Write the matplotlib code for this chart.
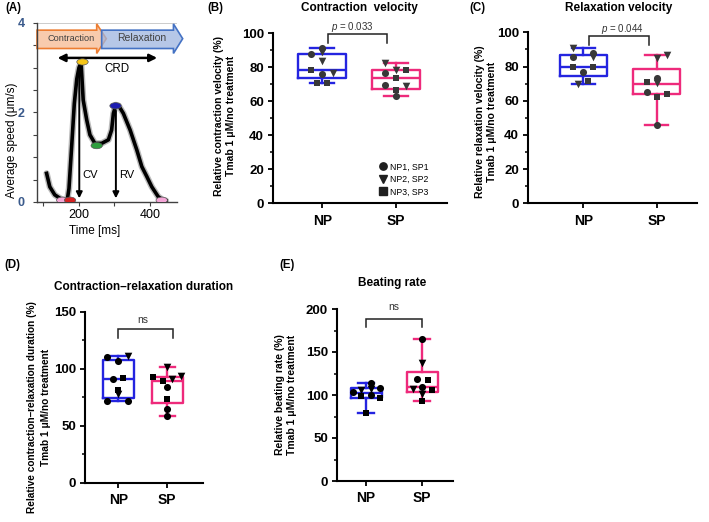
import numpy as np
import matplotlib.pyplot as plt
from matplotlib.patches import Ellipse, Polygon
from matplotlib.lines import Line2D

plt.rcParams['font.family'] = ['Liberation Sans', 'DejaVu Sans']
plt.rcParams['mathtext.fontset'] = 'custom'
plt.rcParams['mathtext.it'] = 'Liberation Sans:italic'
plt.rcParams['mathtext.rm'] = 'Liberation Sans'

W, H = 709, 522
BLUE = '#2424e0'
PINK = '#ee2a7b'

# ---- (A) speed trace ----
trace_t = [109, 118, 132, 151, 167, 172, 180, 187, 194, 200, 206, 212, 222, 231, 245,
           264, 283, 292, 297, 304, 312, 325, 344, 363, 377, 391, 405, 423, 437, 445]
trace_s = [0.64, 0.34, 0.16, 0.06, 0.04, 0.3, 1.3, 2.2, 2.75, 3.0, 3.12, 2.28, 1.83, 1.5, 1.31,
           1.31, 1.39, 1.61, 1.98, 2.17, 2.15, 1.98, 1.61, 1.16, 0.79, 0.57, 0.34, 0.12, 0.04, 0.03]
dot_t = [153, 175, 210, 250, 303, 433]
dot_s = [0.04, 0.04, 3.13, 1.26, 2.15, 0.04]
dot_col = ['#f4a6d7', '#d42020', '#f5c518', '#2e9e3e', '#1c1cb0', '#f4a6d7']
cv_t, rv_t = 201, 304

# ---- box panels: [min, q1, median, q3, max] and points ----
groups = ['NP', 'SP']

cv_box = [[70.9, 73.6, 78.1, 87.5, 91.2], [62.9, 67.4, 73.3, 78.1, 82.1]]
cv_np = [87.9, 91.4, 88.9, 83.6, 78.1, 75.8, 76.8, 70.7, 70.7]
cv_np_m = ['o', 'o', 'v', 'v', 's', 'o', 'v', 's', 's']
cv_np_dx = [-0.146, 0, 0, 0, -0.146, 0, 0.138, -0.078, 0.065]
cv_sp = [82.1, 76.6, 78.5, 78.5, 73.3, 69.3, 68.9, 66.4, 62.9]
cv_sp_m = ['v', 'o', 'v', 's', 's', 'o', 'v', 's', 'o']
cv_sp_dx = [-0.149, -0.149, 0, 0.135, 0, -0.149, 0.135, 0, 0]

rv_box = [[69.8, 74.5, 79.9, 86.5, 90.6], [45.8, 63.9, 69.6, 78.4, 86.7]]
rv_np = [90.6, 85.7, 87.7, 85.4, 79.9, 79.9, 76.6, 69.8, 71.7]
rv_np_m = ['v', 'o', 'o', 'v', 's', 's', 'o', 'v', 's']
rv_np_dx = [-0.136, -0.136, 0.136, 0.136, -0.136, 0.136, 0, -0.068, 0.068]
rv_sp = [86.7, 84.8, 73.1, 71.1, 70.2, 65.3, 62.3, 63.7, 45.8]
rv_sp_m = ['v', 'v', 'o', 's', 'v', 'o', 's', 's', 'o']
rv_sp_dx = [0.145, 0, 0, -0.136, 0, -0.136, 0, 0.145, 0]

crd_box = [[71.8, 74.2, 91.1, 107.8, 111.6], [58.6, 70.0, 89.6, 92.5, 101.4]]
crd_np = [110.2, 107.2, 111.6, 91.1, 91.7, 81.5, 77.9, 71.8, 71.8]
crd_np_m = ['o', 'o', 'v', 'o', 's', 's', 'v', 'o', 'o']
crd_np_dx = [-0.24, -0.01, 0.2, -0.115, 0.1, 0, 0, -0.24, 0.2]
crd_sp = [101.4, 93.2, 89.6, 91.1, 93.8, 84.4, 73.3, 64.5, 58.6]
crd_sp_m = ['v', 's', 's', 'v', 'v', 'o', 's', 'o', 'o']
crd_sp_dx = [0, -0.29, -0.08, 0.1, 0.28, 0, 0, 0, 0]

br_box = [[78.7, 97.0, 102.7, 108.0, 114.3], [93.0, 103.0, 109.0, 127.0, 164.8]]
br_np = [103.9, 98.8, 105.8, 114.3, 106.6, 100.0, 96.9, 108.0, 78.7]
br_np_m = ['o', 's', 'v', 'o', 'v', 'o', 's', 'o', 's']
br_np_dx = [-0.24, -0.084, -0.084, 0.08, 0.08, 0.08, 0.24, 0.24, 0]
br_sp = [164.8, 136.9, 118.3, 117.4, 109.0, 106.6, 105.8, 101.2, 93.0]
br_sp_m = ['o', 'v', 'o', 's', 'o', 'v', 's', 'v', 's']
br_sp_dx = [0, 0, -0.09, 0.1, 0, -0.17, 0.18, 0, 0]

fig = plt.figure(figsize=(W / 100, H / 100), dpi=100)


def axes_px(left, top, right, bottom):
    return fig.add_axes([left / W, 1 - bottom / H, (right - left) / W, (bottom - top) / H])


def ftext(x, y, s, **kw):
    kw.setdefault('ha', 'center')
    kw.setdefault('va', 'center')
    fig.text(x / W, 1 - y / H, s, **kw)


SIZES = {'o': 26, 'v': 30, 's': 22}


def box_panel(ax, boxes, pts, ptcol, width, ymax, major, minor, xlim,
              bracket, sig, sig_x, sig_y, sig_size):
    for i, (b, col) in enumerate(zip(boxes, [BLUE, PINK])):
        st = dict(whislo=b[0], q1=b[1], med=b[2], q3=b[3], whishi=b[4], fliers=[])
        pr = dict(color=col, lw=1.7)
        ax.bxp([st], positions=[i], widths=width, capwidths=width * 0.5,
               showfliers=False, boxprops=pr, whiskerprops=pr, capprops=pr,
               medianprops=pr, manage_ticks=False)
        vals, marks, dxs = pts[i]
        for v, m, d in zip(vals, marks, dxs):
            ax.scatter(i + d, v, marker=m, s=SIZES[m], color=ptcol, linewidths=0, zorder=3)
    x0, x1, ybar, yleg = bracket
    ax.plot([x0, x0, x1, x1], [yleg, ybar, ybar, yleg], color='#222222', lw=1.1,
            clip_on=False, solid_joinstyle='miter')
    ax.text(sig_x, sig_y, sig, ha='center', va='center', fontsize=sig_size,
            color='#333333', clip_on=False)
    ax.set_xlim(*xlim)
    ax.set_ylim(0, ymax)
    ax.set_yticks(np.arange(0, ymax + 1, major),
                  labels=[str(int(v)) for v in np.arange(0, ymax + 1, major)],
                  fontweight='bold', fontsize=9.5)
    ax.set_yticks(np.arange(0, ymax + 1, minor), minor=True)
    ax.set_xticks([0, 1], labels=groups, fontweight='bold', fontsize=10)
    for s in ['top', 'right']:
        ax.spines[s].set_visible(False)
    for s in ['left', 'bottom']:
        ax.spines[s].set_linewidth(1.5)
    ax.tick_params(which='major', width=1.3, length=3.5, pad=3)
    ax.tick_params(which='minor', width=1.1, length=2.2)
    ax.tick_params(axis='x', pad=4)


# ---------------- (A) ----------------
axA = axes_px(37, 23, 177, 202)
axA.set_xlim(82, 476)
axA.set_ylim(0, 4)
axA.plot(trace_t, trace_s, color='#777777', lw=4.6, alpha=0.5, solid_capstyle='round')
axA.plot(trace_t, trace_s, color='black', lw=2.6, solid_joinstyle='round')
axA.axhline(4, color='#c8c8c8', lw=1.3)
axA.annotate('', xy=(cv_t, 0.02), xytext=(cv_t, 3.08),
             arrowprops=dict(arrowstyle='-|>', color='black', lw=1.4, mutation_scale=9))
axA.annotate('', xy=(rv_t, 0.02), xytext=(rv_t, 2.1),
             arrowprops=dict(arrowstyle='-|>', color='black', lw=1.4, mutation_scale=9))
axA.annotate('', xy=(132, 3.22), xytext=(428, 3.22),
             arrowprops=dict(arrowstyle='<|-|>', color='black', lw=1.8, mutation_scale=11))
for t, s, c in zip(dot_t, dot_s, dot_col):
    axA.add_patch(Ellipse((t, s), 32, 0.14, facecolor=c, edgecolor='#555555', lw=0.5, zorder=4))

contr = Polygon([(82, 3.43), (250, 3.43), (250, 3.32), (277, 3.65), (250, 3.98),
                 (250, 3.84), (82, 3.84)], closed=True, facecolor='#f8cbad',
                edgecolor='#ed7d31', lw=1.2, clip_on=False, zorder=2)
relax = Polygon([(264, 3.43), (466, 3.43), (466, 3.32), (492, 3.65), (466, 3.98),
                 (466, 3.84), (264, 3.84)], closed=True, facecolor=(0.62, 0.71, 0.88, 0.75),
                edgecolor='#4472c4', lw=1.2, clip_on=False, zorder=3)
axA.add_patch(contr)
axA.add_patch(relax)
axA.text(179, 3.65, 'Contraction', ha='center', va='center', fontsize=6.6, color='#404040', zorder=5)
axA.text(376, 3.66, 'Relaxation', ha='center', va='center', fontsize=7.5, color='#404040', zorder=5)
axA.text(306, 2.98, 'CRD', ha='center', va='center', fontsize=8.3)
axA.text(231, 0.6, 'CV', ha='center', va='center', fontsize=8)
axA.text(334, 0.6, 'RV', ha='center', va='center', fontsize=8)

axA.set_yticks([0, 2, 4], labels=['0', '2', '4'], fontweight='bold', fontsize=9, color='#3a5a8c')
axA.set_yticks(np.arange(0, 4.01, 0.5), minor=True)
axA.set_xticks([200, 400], labels=['200', '400'], fontsize=9)
axA.set_xticks([100, 300], minor=True)
for s in ['top', 'right']:
    axA.spines[s].set_visible(False)
for s in ['left', 'bottom']:
    axA.spines[s].set_color('#404040')
    axA.spines[s].set_linewidth(1.0)
axA.tick_params(which='both', length=3, width=0.8, color='#404040', pad=2)
axA.tick_params(axis='y', pad=6)
ftext(12, 140, 'Average speed (μm/s)', rotation=90, fontsize=8.5)
ftext(95, 231, 'Time [ms]', fontsize=8.5)

# ---------------- (B) ----------------
axB = axes_px(273, 33, 447, 203.3)
box_panel(axB, cv_box, [(cv_np, cv_np_m, cv_np_dx), (cv_sp, cv_sp_m, cv_sp_dx)], '#383838',
          0.65, 100, 20, 10, (-0.666, 1.685), (0.08, 0.87, 99.2, 94.1),
          '$p$ = 0.033', 0.41, 103.5, 7)
hand = [Line2D([], [], marker=m, ls='', color='#202020', ms=5.3) for m in ['o', 'v', 's']]
axB.legend(hand, ['NP1, SP1', 'NP2, SP2', 'NP3, SP3'], loc='lower left',
           bbox_to_anchor=(0.61, 0.04), frameon=False, fontsize=6.3, handletextpad=0.45,
           labelspacing=0.4, handlelength=0.8, borderpad=0, borderaxespad=0)
ftext(359, 8, 'Contraction  velocity', fontsize=8.5, fontweight='bold')
ftext(225, 116, 'Relative contraction velocity (%)\nTmab 1 μM/no treatment',
      rotation=90, fontsize=7.5, fontweight='bold', linespacing=1.25)

# ---------------- (C) ----------------
axC = axes_px(528, 32.3, 697, 203.3)
box_panel(axC, rv_box, [(rv_np, rv_np_m, rv_np_dx), (rv_sp, rv_sp_m, rv_sp_dx)], '#383838',
          0.64, 100, 20, 10, (-0.753, 1.549), (0.08, 0.9, 97.8, 92.6),
          '$p$ = 0.044', 0.53, 101.8, 7)
ftext(619, 8, 'Relaxation velocity', fontsize=8.5, fontweight='bold')
ftext(486, 122, 'Relative relaxation velocity (%)\nTmab 1 μM/no treatment',
      rotation=90, fontsize=7.5, fontweight='bold', linespacing=1.25)

# ---------------- (D) ----------------
axD = axes_px(85, 312, 203, 482.7)
box_panel(axD, crd_box, [(crd_np, crd_np_m, crd_np_dx), (crd_sp, crd_sp_m, crd_sp_dx)], 'black',
          0.63, 150, 50, 25, (-0.68, 1.73), (0.0, 1.12, 134.8, 126.9),
          'ns', 0.51, 143, 7.5)
ftext(143.5, 287, 'Contraction–relaxation duration', fontsize=8.5, fontweight='bold')
ftext(39, 407, 'Relative contraction–relaxation duration (%)\nTmab 1 μM/no treatment',
      rotation=90, fontsize=7.3, fontweight='bold', linespacing=1.5)

# ---------------- (E) ----------------
axE = axes_px(337, 309, 453, 481)
box_panel(axE, br_box, [(br_np, br_np_m, br_np_dx), (br_sp, br_sp_m, br_sp_dx)], 'black',
          0.55, 200, 50, 25, (-0.52, 1.55), (0.0, 1.0, 188.4, 178.7),
          'ns', 0.49, 202, 7.5)
ftext(392, 283, 'Beating rate', fontsize=8.5, fontweight='bold')
ftext(286, 395, 'Relative beating rate (%)\nTmab 1 μM/no treatment',
      rotation=90, fontsize=7.5, fontweight='bold', linespacing=1.25)

# panel letters
for x, y, s in [(13, 8, '(A)'), (215, 8, '(B)'), (477, 8, '(C)'), (12, 265, '(D)'), (287, 265, '(E)')]:
    ftext(x, y, s, fontsize=8.3, fontweight='bold')

fig.savefig('out.png', dpi=100)
